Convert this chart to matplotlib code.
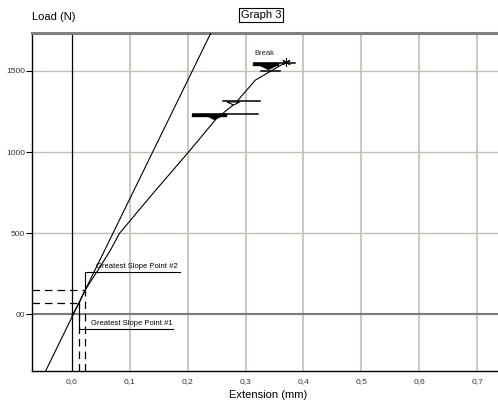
import matplotlib
matplotlib.use("Agg")
import matplotlib.pyplot as plt
import numpy as np

plt.rcParams['font.family'] = ['Liberation Sans', 'DejaVu Sans']

# load / extension curve
ext = [0.0, 0.0126, 0.023, 0.045, 0.066, 0.082, 0.14, 0.20, 0.25, 0.282, 0.317, 0.37]
load = [-10, 72, 150, 272, 392, 498, 745, 994, 1208, 1300, 1444, 1554]

# horizontal hold segments
bar_y = [1236, 1315, 1549, 1500]
bar_x0 = [0.209, 0.261, 0.315, 0.326]
bar_x1 = [0.322, 0.325, 0.386, 0.359]
thick_y = [1230, 1541]
thick_x0 = [0.209, 0.315]
thick_x1 = [0.265, 0.355]
tri_x = [0.245, 0.338]
tri_y = [1215, 1524]
open_tri = (0.278, 1302)

# greatest slope points and tangent
gsp_x = [0.0126, 0.023]
gsp_y = [72, 150]
slope = 7300
brk = (0.370, 1554)

xticks = [0.0, 0.1, 0.2, 0.3, 0.4, 0.5, 0.6, 0.7]
xlabels = ['0,0', '0,1', '0,2', '0,3', '0,4', '0,5', '0,6', '0,7']
yticks = [0, 500, 1000, 1500]
ylabels = ['00', '500', '1000', '1500']

xmin, xmax = -0.069, 0.736
ymin, ymax = -350, 1734

fig = plt.figure(figsize=(4.98, 4.03), dpi=100)
ax = fig.add_axes([32/498, 32/403, 466/498, 338/403])
ax.set_xlim(xmin, xmax)
ax.set_ylim(ymin, ymax)

gridc = '#c2bfb2'
for x in xticks[1:]:
    ax.axvline(x, color=gridc, lw=1.2, zorder=1)
for y in yticks[1:]:
    ax.axhline(y, color=gridc, lw=1.0, zorder=1)
ax.axhline(0, color='#7a7a7a', lw=1.5, zorder=2)
ax.axvline(0, color='black', lw=0.9, zorder=2)

ax.spines['top'].set_color('#808080')
ax.spines['top'].set_linewidth(2.2)
ax.spines['right'].set_visible(False)
ax.spines['left'].set_linewidth(1.0)
ax.spines['bottom'].set_linewidth(1.0)

ax.set_xticks(xticks)
ax.set_xticklabels(xlabels, fontsize=6, color='#333333')
ax.set_yticks(yticks)
ax.set_yticklabels(ylabels, fontsize=6, color='#333333')
ax.tick_params(axis='x', length=0, pad=5)
ax.tick_params(axis='y', length=4, width=0.8, pad=1)

# tangent line
tx = np.array([xmin, xmax])
ty = gsp_y[1] + slope * (tx - gsp_x[1])
ax.plot(tx, ty, color='black', lw=0.8, zorder=3)

# curve
ax.plot(ext, load, color='black', lw=0.8, zorder=3)

# hold segments
for y, a, b in zip(bar_y, bar_x0, bar_x1):
    ax.plot([a, b], [y, y], color='black', lw=1.1, zorder=3)
for y, a, b in zip(thick_y, thick_x0, thick_x1):
    ax.plot([a, b], [y, y], color='black', lw=2.4, zorder=3)
flat_tri = [(-1, 0.25), (1, 0.25), (0, -0.25), (-1, 0.25)]
ax.plot(tri_x, tri_y, ls='none', marker=flat_tri, ms=11, color='black', zorder=4)
ax.plot([open_tri[0]], [open_tri[1]], ls='none', marker=flat_tri, ms=9,
        mfc='white', mec='black', mew=0.8, zorder=4)

# break marker
ax.plot([brk[0]], [brk[1]], ls='none', marker=(6, 2, 0), ms=6, color='black', mew=0.8, zorder=5)
ax.text(0.315, 1585, 'Break', fontsize=5.5, ha='left', va='bottom', color='#222222')

# greatest slope points, dashed guides
for x, y in zip(gsp_x, gsp_y):
    ax.plot([xmin, x], [y, y], color='black', lw=0.9, ls=(0, (6, 4)), zorder=3)
    ax.plot([x, x], [ymin, y], color='black', lw=0.9, ls=(0, (6, 4)), zorder=3)

# leader lines
ax.plot([gsp_x[1], gsp_x[1], 0.187], [gsp_y[1], 263, 263], color='black', lw=0.8, zorder=3)
ax.text(0.042, 272, 'Greatest Slope Point #2', fontsize=5.5, ha='left', va='bottom')
ax.plot([gsp_x[0], gsp_x[0], 0.175], [gsp_y[0], -94, -94], color='black', lw=0.8, zorder=3)
ax.text(0.033, -60, 'Greatest Slope Point #1', fontsize=5.5, ha='left', va='center')

fig.text(32/498, 1 - 17/403, 'Load (N)', fontsize=8, ha='left', va='center')
fig.text(261/498, 1 - 15/403, 'Graph 3', fontsize=8, ha='center', va='center',
         bbox=dict(boxstyle='square,pad=0.2', fc='white', ec='black', lw=0.8))
fig.text(268/498, 1 - 395/403, 'Extension (mm)', fontsize=8, ha='center', va='center')

fig.savefig('out.png', dpi=100)
